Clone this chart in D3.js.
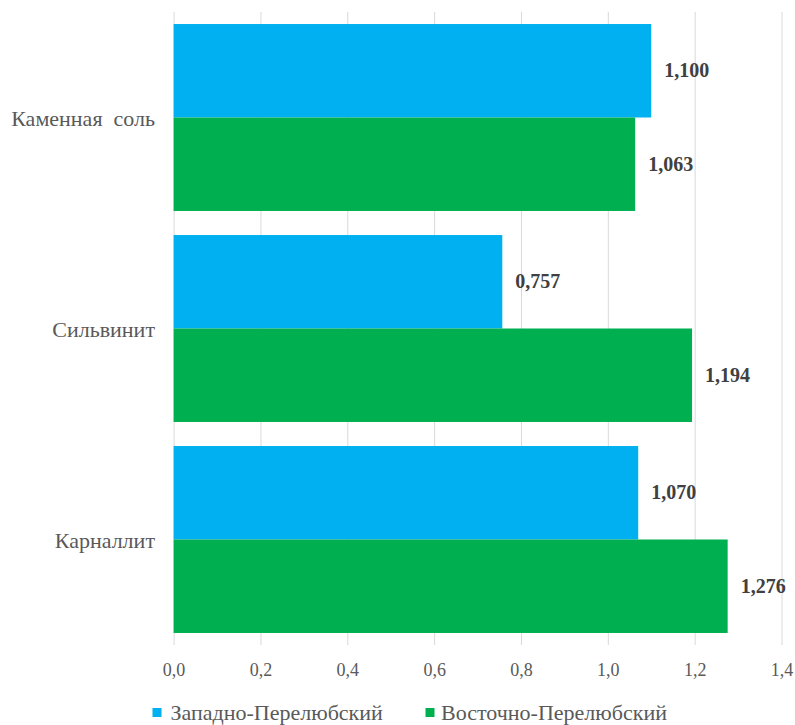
<!DOCTYPE html>
<html>
<head>
<meta charset="utf-8">
<script src="https://cdn.jsdelivr.net/npm/d3@7"></script>
<style>
  body { margin: 0; background: #fff; }
</style>
</head>
<body>
<div id="chart"></div>
<script>
const categories = ["Каменная  соль", "Сильвинит", "Карналлит"];
const seriesNames = ["Западно-Перелюбский", "Восточно-Перелюбский"];
const westValues = [1.100, 0.757, 1.070];
const eastValues = [1.063, 1.194, 1.276];
const xTicks = [0, 0.2, 0.4, 0.6, 0.8, 1.0, 1.2, 1.4];
const colors = ["#00b0f0", "#00b050"];

const width = 795;
const height = 725;
const plot = {left: 173.6, right: 781.5, top: 12, bottom: 645};
const font = "Liberation Serif, Tinos, Times New Roman, serif";

const rows = categories.map((c, i) => ({
  category: c,
  values: [westValues[i], eastValues[i]]
}));

const svg = d3.select("#chart")
    .append("svg")
    .attr("width", width)
    .attr("height", height)
    .style("font-family", font);

const x = d3.scaleLinear()
    .domain([0, 1.4])
    .range([plot.left, plot.right]);

const y = d3.scaleBand()
    .domain(categories)
    .range([plot.top, plot.bottom])
    .paddingInner(0.114)
    .paddingOuter(0.057);

const ySub = d3.scaleBand()
    .domain(seriesNames)
    .range([0, y.bandwidth()]);

const fmt = v => d3.format(".1f")(v).replace(".", ",");

// сетка
const grid = svg.append("g")
    .attr("transform", `translate(0,${plot.bottom})`)
    .call(d3.axisBottom(x).tickValues(xTicks).tickSize(-(plot.bottom - plot.top)).tickFormat(""));
grid.select(".domain").remove();
grid.selectAll("line").attr("stroke", "#d9d9d9");

// подписи оси
const axis = svg.append("g")
    .attr("transform", `translate(0,${plot.bottom})`)
    .call(d3.axisBottom(x).tickValues(xTicks).tickSize(0).tickPadding(18).tickFormat(fmt));
axis.select(".domain").remove();
axis.attr("font-family", null).attr("font-size", 18);
axis.selectAll("text").attr("fill", "#595959").style("font-family", font);

const groups = svg.selectAll(".cat")
    .data(rows)
    .enter().append("g")
    .attr("transform", d => `translate(0,${y(d.category)})`);

groups.selectAll("rect")
    .data(d => d.values.map((v, i) => ({series: seriesNames[i], value: v, i: i})))
    .enter().append("rect")
    .attr("x", x(0))
    .attr("y", d => ySub(d.series))
    .attr("width", d => x(d.value) - x(0))
    .attr("height", ySub.bandwidth())
    .attr("fill", d => colors[d.i]);

groups.selectAll(".label")
    .data(d => d.values.map((v, i) => ({series: seriesNames[i], value: v})))
    .enter().append("text")
    .attr("class", "label")
    .attr("x", d => x(d.value) + 13)
    .attr("y", d => ySub(d.series) + ySub.bandwidth() / 2)
    .attr("dy", ".33em")
    .style("font-family", font)
    .attr("font-size", 20)
    .attr("font-weight", "bold")
    .attr("fill", "#404040")
    .text(d => d3.format(".3f")(d.value).replace(".", ","));

// категории
svg.selectAll(".catlabel")
    .data(categories)
    .enter().append("text")
    .attr("class", "catlabel")
    .attr("x", 155)
    .attr("y", d => y(d) + y.bandwidth() / 2)
    .attr("dy", ".4em")
    .attr("text-anchor", "end")
    .style("font-family", font)
    .attr("font-size", 22)
    .attr("fill", "#595959")
    .style("white-space", "pre")
    .text(d => d);

// легенда
const legendX = [152.5, 425.5];
const legendTextX = [170.5, 441];
const legend = svg.selectAll(".legend")
    .data(seriesNames)
    .enter().append("g")
    .attr("transform", (d, i) => `translate(${legendX[i]},708)`);

legend.append("rect")
    .attr("width", 9)
    .attr("height", 9)
    .attr("fill", (d, i) => colors[i]);

legend.append("text")
    .attr("x", (d, i) => legendTextX[i] - legendX[i])
    .attr("y", 12)
    .style("font-family", font)
    .attr("font-size", 22)
    .attr("fill", "#595959")
    .text(d => d);
</script>
</body>
</html>
